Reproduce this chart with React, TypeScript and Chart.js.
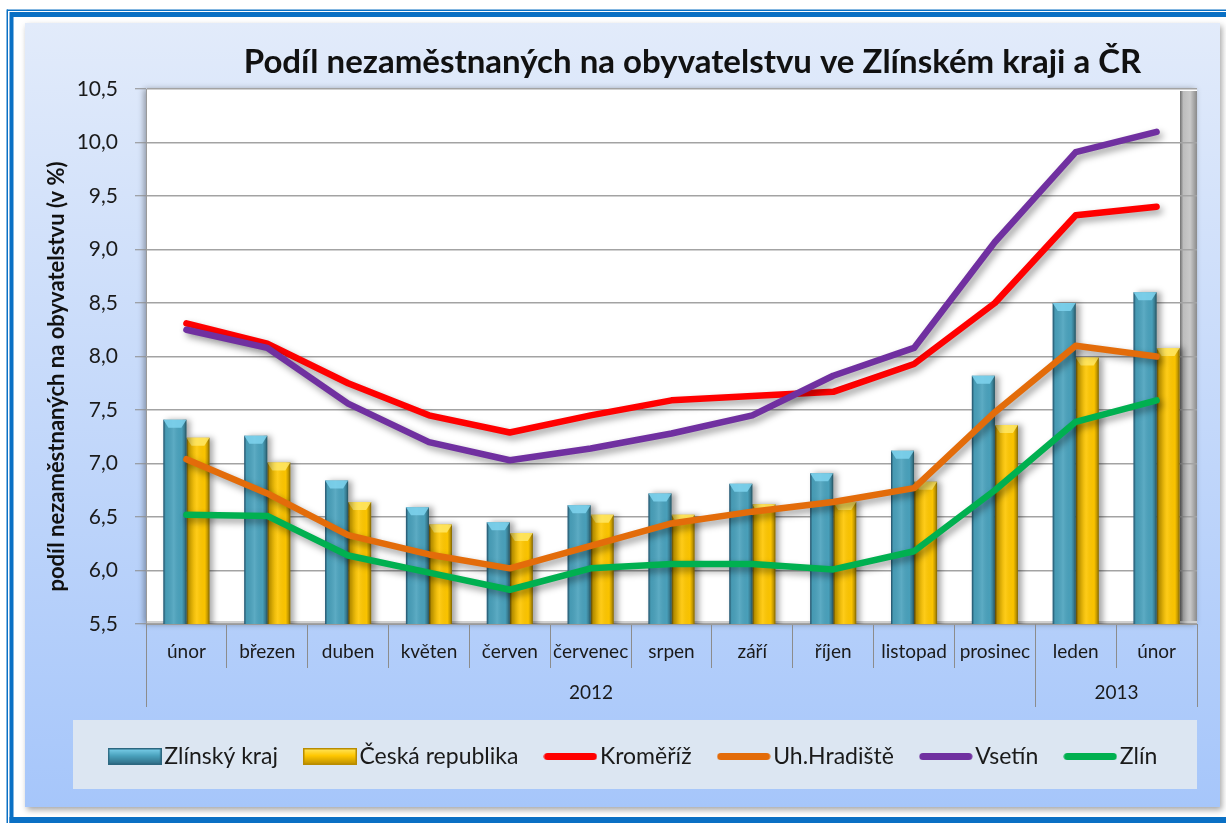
import React, { useEffect, useRef } from 'react';
import { Chart, registerables } from 'chart.js';

Chart.register(...registerables);

// ---------- data ----------
const categories = ['únor', 'březen', 'duben', 'květen', 'červen', 'červenec', 'srpen', 'září', 'říjen', 'listopad', 'prosinec', 'leden', 'únor'];
const yearGroups = ['2012', '2013'];
const yearGroupSizes = [11, 2];

const zlinskyKraj = [7.41, 7.26, 6.84, 6.59, 6.45, 6.61, 6.72, 6.81, 6.91, 7.12, 7.82, 8.5, 8.6];
const ceskaRepublika = [7.24, 7.01, 6.64, 6.43, 6.35, 6.52, 6.52, 6.62, 6.64, 6.83, 7.36, 7.99, 8.08];
const kromeriz = [8.31, 8.12, 7.75, 7.45, 7.29, 7.45, 7.59, 7.63, 7.67, 7.93, 8.5, 9.32, 9.4];
const uhHradiste = [7.04, 6.72, 6.33, 6.15, 6.02, 6.23, 6.44, 6.55, 6.64, 6.77, 7.48, 8.1, 8.0];
const vsetin = [8.25, 8.08, 7.56, 7.2, 7.03, 7.14, 7.28, 7.45, 7.82, 8.08, 9.07, 9.91, 10.1];
const zlin = [6.52, 6.51, 6.14, 5.98, 5.82, 6.02, 6.06, 6.06, 6.01, 6.18, 6.75, 7.39, 7.59];

const seriesNames = ['Zlínský kraj', 'Česká republika', 'Kroměříž', 'Uh.Hradiště', 'Vsetín', 'Zlín'];
const chartTitle = 'Podíl nezaměstnaných na obyvatelstvu ve Zlínském kraji a ČR';
const yAxisTitle = 'podíl nezaměstnaných na obyvatelstvu (v %)';
const yMin = 5.5;
const yMax = 10.5;
const yStep = 0.5;

// ---------- styles ----------
const W = 1226;
const H = 823;
const FONT = 'Lato, "Open Sans", "DejaVu Sans", sans-serif';
const TEAL = '#4aa2bd';
const TEAL_LIGHT = '#7fd3ee';
const TEAL_DARK = '#2c6780';
const GOLD = '#ffc700';
const GOLD_LIGHT = '#ffe866';
const GOLD_DARK = '#b98c00';
const RED = '#ff0000';
const ORANGE = '#e36c0a';
const PURPLE = '#7030a0';
const GREEN = '#00b050';

const barLight: Record<number, string> = { 0: TEAL_LIGHT, 1: GOLD_LIGHT };

function makeBarIcon(base: string, light: string, dark: string) {
  const c = document.createElement('canvas');
  c.width = 54;
  c.height = 17;
  const x = c.getContext('2d')!;
  const g = x.createLinearGradient(0, 0, 0, 17);
  g.addColorStop(0, light);
  g.addColorStop(0.45, base);
  g.addColorStop(1, dark);
  x.fillStyle = g;
  x.fillRect(0, 0, 54, 17);
  x.strokeStyle = dark;
  x.lineWidth = 1.5;
  x.strokeRect(0.75, 0.75, 52.5, 15.5);
  return c;
}

function makeLineIcon(color: string) {
  const c = document.createElement('canvas');
  c.width = 54;
  c.height = 17;
  const x = c.getContext('2d')!;
  x.strokeStyle = color;
  x.lineWidth = 7;
  x.lineCap = 'round';
  x.beginPath();
  x.moveTo(4, 8.5);
  x.lineTo(50, 8.5);
  x.stroke();
  return c;
}

const backgroundPlugin = {
  id: 'pageBackground',
  beforeDraw(chart: any) {
    const { ctx, chartArea: ca, legend } = chart;
    ctx.save();
    ctx.fillStyle = '#ffffff';
    ctx.fillRect(0, 0, W, H);
    // blue frame
    ctx.fillStyle = '#0a70c4';
    ctx.fillRect(7, 9.5, W, 1.5);
    ctx.fillRect(6.5, 9.5, 1.5, H);
    ctx.fillRect(10, 12, W, 5);
    ctx.fillRect(9.5, 12, 4, H);
    ctx.fillRect(9.5, 817, W, 6);
    // chart panel
    ctx.save();
    ctx.shadowColor = 'rgba(0,0,0,0.35)';
    ctx.shadowBlur = 6;
    ctx.shadowOffsetX = 2;
    ctx.shadowOffsetY = 3;
    const g = ctx.createLinearGradient(0, 23, 0, 807);
    g.addColorStop(0, '#e2ebfa');
    g.addColorStop(1, '#a6c6fa');
    ctx.fillStyle = g;
    ctx.fillRect(25, 23, 1195, 784);
    ctx.restore();
    // legend box
    if (legend) {
      ctx.fillStyle = '#dce6f2';
      ctx.fillRect(73, legend.top + 9, ca.right - 73, 69);
    }
    // plot area (white wall with shadow)
    ctx.save();
    ctx.shadowColor = 'rgba(0,0,0,0.35)';
    ctx.shadowBlur = 6;
    ctx.shadowOffsetX = -2;
    ctx.shadowOffsetY = 0;
    ctx.fillStyle = '#ffffff';
    ctx.fillRect(ca.left, ca.top, ca.right - ca.left, ca.bottom - ca.top);
    ctx.restore();
    // right side wall
    const wx = ca.right - 17;
    const wg = ctx.createLinearGradient(wx, 0, ca.right, 0);
    wg.addColorStop(0, '#6f6f6f');
    wg.addColorStop(0.2, '#bdbdbd');
    wg.addColorStop(0.6, '#c9c9c9');
    wg.addColorStop(1, '#8a8a8a');
    ctx.fillStyle = wg;
    ctx.fillRect(wx, ca.top + 2, 17, ca.bottom - ca.top - 2);
    // floor
    ctx.fillStyle = '#d0d0d0';
    ctx.fillRect(ca.left, ca.bottom - 3, ca.right - ca.left, 3);
    ctx.restore();
  },
};

const seriesEffectsPlugin = {
  id: 'seriesEffects',
  beforeDatasetDraw(chart: any, args: any) {
    const ds = chart.data.datasets[args.index];
    const ctx = chart.ctx;
    ctx.save();
    if (ds.type === 'line') {
      ctx.shadowColor = 'rgba(0,0,0,0.38)';
      ctx.shadowBlur = 7;
      ctx.shadowOffsetX = 3;
      ctx.shadowOffsetY = 4;
    } else {
      ctx.shadowColor = 'rgba(0,0,0,0.35)';
      ctx.shadowBlur = 6;
      ctx.shadowOffsetX = 4;
      ctx.shadowOffsetY = 0;
    }
  },
  afterDatasetDraw(chart: any, args: any) {
    const ctx = chart.ctx;
    ctx.restore();
    const ds = chart.data.datasets[args.index];
    if (ds.type !== 'bar') return;
    const ca = chart.chartArea;
    const light = barLight[args.index];
    ctx.save();
    ctx.beginPath();
    ctx.rect(ca.left, ca.top, ca.right - ca.left, ca.bottom - ca.top);
    ctx.clip();
    args.meta.data.forEach((el: any) => {
      const { x, y, width, base } = el.getProps(['x', 'y', 'width', 'base'], true);
      const left = x - width / 2;
      const bottom = Math.min(base, ca.bottom);
      const h = bottom - y;
      const g = ctx.createLinearGradient(left, 0, left + width, 0);
      g.addColorStop(0, 'rgba(0,10,40,0.55)');
      g.addColorStop(0.1, 'rgba(0,0,0,0.05)');
      g.addColorStop(0.45, 'rgba(255,255,255,0.10)');
      g.addColorStop(0.8, 'rgba(0,0,0,0.02)');
      g.addColorStop(0.92, 'rgba(0,0,0,0.25)');
      g.addColorStop(1, 'rgba(0,0,0,0.5)');
      ctx.fillStyle = g;
      ctx.fillRect(left, y, width, h);
      // top bevel
      ctx.beginPath();
      ctx.moveTo(left, y);
      ctx.lineTo(left + width, y);
      ctx.lineTo(left + width * 0.78, y + 8);
      ctx.lineTo(left + width * 0.22, y + 8);
      ctx.closePath();
      ctx.fillStyle = light;
      ctx.globalAlpha = 0.85;
      ctx.fill();
      ctx.globalAlpha = 1;
    });
    ctx.restore();
  },
};

const textPlugin = {
  id: 'extraText',
  afterDraw(chart: any) {
    const { ctx, chartArea: ca, scales } = chart;
    const xs = scales.x;
    ctx.save();
    // main title
    ctx.fillStyle = '#111111';
    ctx.font = `bold 33px ${FONT}`;
    ctx.textAlign = 'center';
    ctx.textBaseline = 'middle';
    ctx.fillText(chartTitle, (ca.left + ca.right) / 2 + 21, 62);
    // y axis title
    ctx.save();
    ctx.translate(57, (ca.top + ca.bottom) / 2 + 20);
    ctx.rotate(-Math.PI / 2);
    ctx.font = `bold 22px ${FONT}`;
    ctx.fillText(yAxisTitle, 0, 0);
    ctx.restore();
    // year groups on the category axis
    const half = (xs.getPixelForValue(1) - xs.getPixelForValue(0)) / 2;
    ctx.strokeStyle = '#8c8c8c';
    ctx.lineWidth = 1;
    ctx.font = `19px ${FONT}`;
    ctx.fillStyle = '#1a1a1a';
    let idx = 0;
    yearGroups.forEach((label, gi) => {
      const start = idx;
      const end = idx + yearGroupSizes[gi] - 1;
      const x0 = Math.round(xs.getPixelForValue(start) - half) + 0.5;
      const x1 = Math.round(xs.getPixelForValue(end) + half) + 0.5;
      ctx.beginPath();
      ctx.moveTo(x0, xs.top);
      ctx.lineTo(x0, xs.top + 83);
      ctx.moveTo(x1, xs.top);
      ctx.lineTo(x1, xs.top + 83);
      ctx.stroke();
      ctx.fillText(label, (x0 + x1) / 2, xs.top + 69);
      idx += yearGroupSizes[gi];
    });
    ctx.restore();
  },
};

export default function App() {
  const ref = useRef<HTMLCanvasElement>(null);

  useEffect(() => {
    let chart: Chart | null = null;
    let cancelled = false;
    const create = () => {
      if (cancelled || !ref.current) return;
      const icons: Record<number, HTMLCanvasElement> = {
        0: makeBarIcon(TEAL, TEAL_LIGHT, TEAL_DARK),
        1: makeBarIcon(GOLD, GOLD_LIGHT, GOLD_DARK),
      };
      const lineDs = (label: string, data: number[], color: string, order: number) => ({
        type: 'line' as const,
        label,
        data,
        borderColor: color,
        backgroundColor: color,
        borderWidth: 6.5,
        pointRadius: 0,
        pointHoverRadius: 0,
        tension: 0,
        borderJoinStyle: 'round' as const,
        borderCapStyle: 'round' as const,
        fill: false,
        order,
      });
      chart = new Chart(ref.current, {
        type: 'bar',
        data: {
          labels: categories,
          datasets: [
            {
              type: 'bar',
              label: seriesNames[0],
              data: zlinskyKraj,
              backgroundColor: TEAL,
              borderWidth: 0,
              barPercentage: 1,
              categoryPercentage: 0.57,
              order: 5,
            },
            {
              type: 'bar',
              label: seriesNames[1],
              data: ceskaRepublika,
              backgroundColor: GOLD,
              borderWidth: 0,
              barPercentage: 1,
              categoryPercentage: 0.57,
              order: 5,
            },
            lineDs(seriesNames[2], kromeriz, RED, 4),
            lineDs(seriesNames[3], uhHradiste, ORANGE, 3),
            lineDs(seriesNames[4], vsetin, PURPLE, 2),
            lineDs(seriesNames[5], zlin, GREEN, 1),
          ] as any,
        },
        options: {
          responsive: false,
          devicePixelRatio: 1,
          animation: false,
          events: [],
          layout: { padding: { left: 77, right: 29, top: 89, bottom: 45 } },
          plugins: {
            tooltip: { enabled: false },
            title: { display: false },
            legend: {
              display: true,
              position: 'bottom',
              labels: {
                usePointStyle: true,
                pointStyleWidth: 36,
                boxHeight: 17,
                padding: 34,
                color: '#1a1a1a',
                font: { family: FONT, size: 23 },
                sort: (a: any, b: any) => a.datasetIndex - b.datasetIndex,
                generateLabels: (c: any) => {
                  const items = (Chart.defaults.plugins.legend.labels as any).generateLabels(c);
                  return items.map((it: any) => {
                    const ds = c.data.datasets[it.datasetIndex];
                    it.pointStyle = ds.type === 'bar' ? icons[it.datasetIndex] : makeLineIcon(ds.borderColor);
                    return it;
                  });
                },
              },
            },
          },
          scales: {
            x: {
              type: 'category',
              offset: true,
              ticks: {
                color: '#1a1a1a',
                font: { family: FONT, size: 19 },
                padding: -28,
                autoSkip: false,
                maxRotation: 0,
              },
              grid: {
                offset: true,
                drawOnChartArea: false,
                drawTicks: true,
                tickLength: 44,
                tickColor: '#8c8c8c',
                tickWidth: 1,
              },
              border: { display: true, color: '#9a9a9a', width: 1 },
              afterFit: (s: any) => {
                s.height = 87;
              },
            },
            y: {
              type: 'linear',
              min: yMin,
              max: yMax,
              ticks: {
                stepSize: yStep,
                color: '#1a1a1a',
                font: { family: FONT, size: 21 },
                padding: 17,
                callback: (v: any) => Number(v).toFixed(1).replace('.', ','),
              },
              grid: {
                color: '#a3a3a3',
                lineWidth: 1.5,
                drawTicks: true,
                tickLength: 11,
                tickColor: '#8c8c8c',
                tickWidth: 1,
              },
              border: { display: true, color: '#9a9a9a', width: 1 },
              afterFit: (s: any) => {
                s.width = 69;
              },
            },
          },
        },
        plugins: [backgroundPlugin, seriesEffectsPlugin, textPlugin],
      } as any);
    };
    const fonts: any = (document as any).fonts;
    const ready = fonts && fonts.load
      ? Promise.all([
          fonts.load(`20px ${FONT}`),
          fonts.load(`bold 20px ${FONT}`),
        ]).catch(() => undefined)
      : Promise.resolve();
    ready.then(create);
    return () => {
      cancelled = true;
      if (chart) chart.destroy();
    };
  }, []);

  return (
    <div style={{ position: 'absolute', left: 0, top: 0, width: W, height: H, overflow: 'hidden' }}>
      <canvas ref={ref} width={W} height={H} style={{ display: 'block', width: W, height: H }} />
    </div>
  );
}
